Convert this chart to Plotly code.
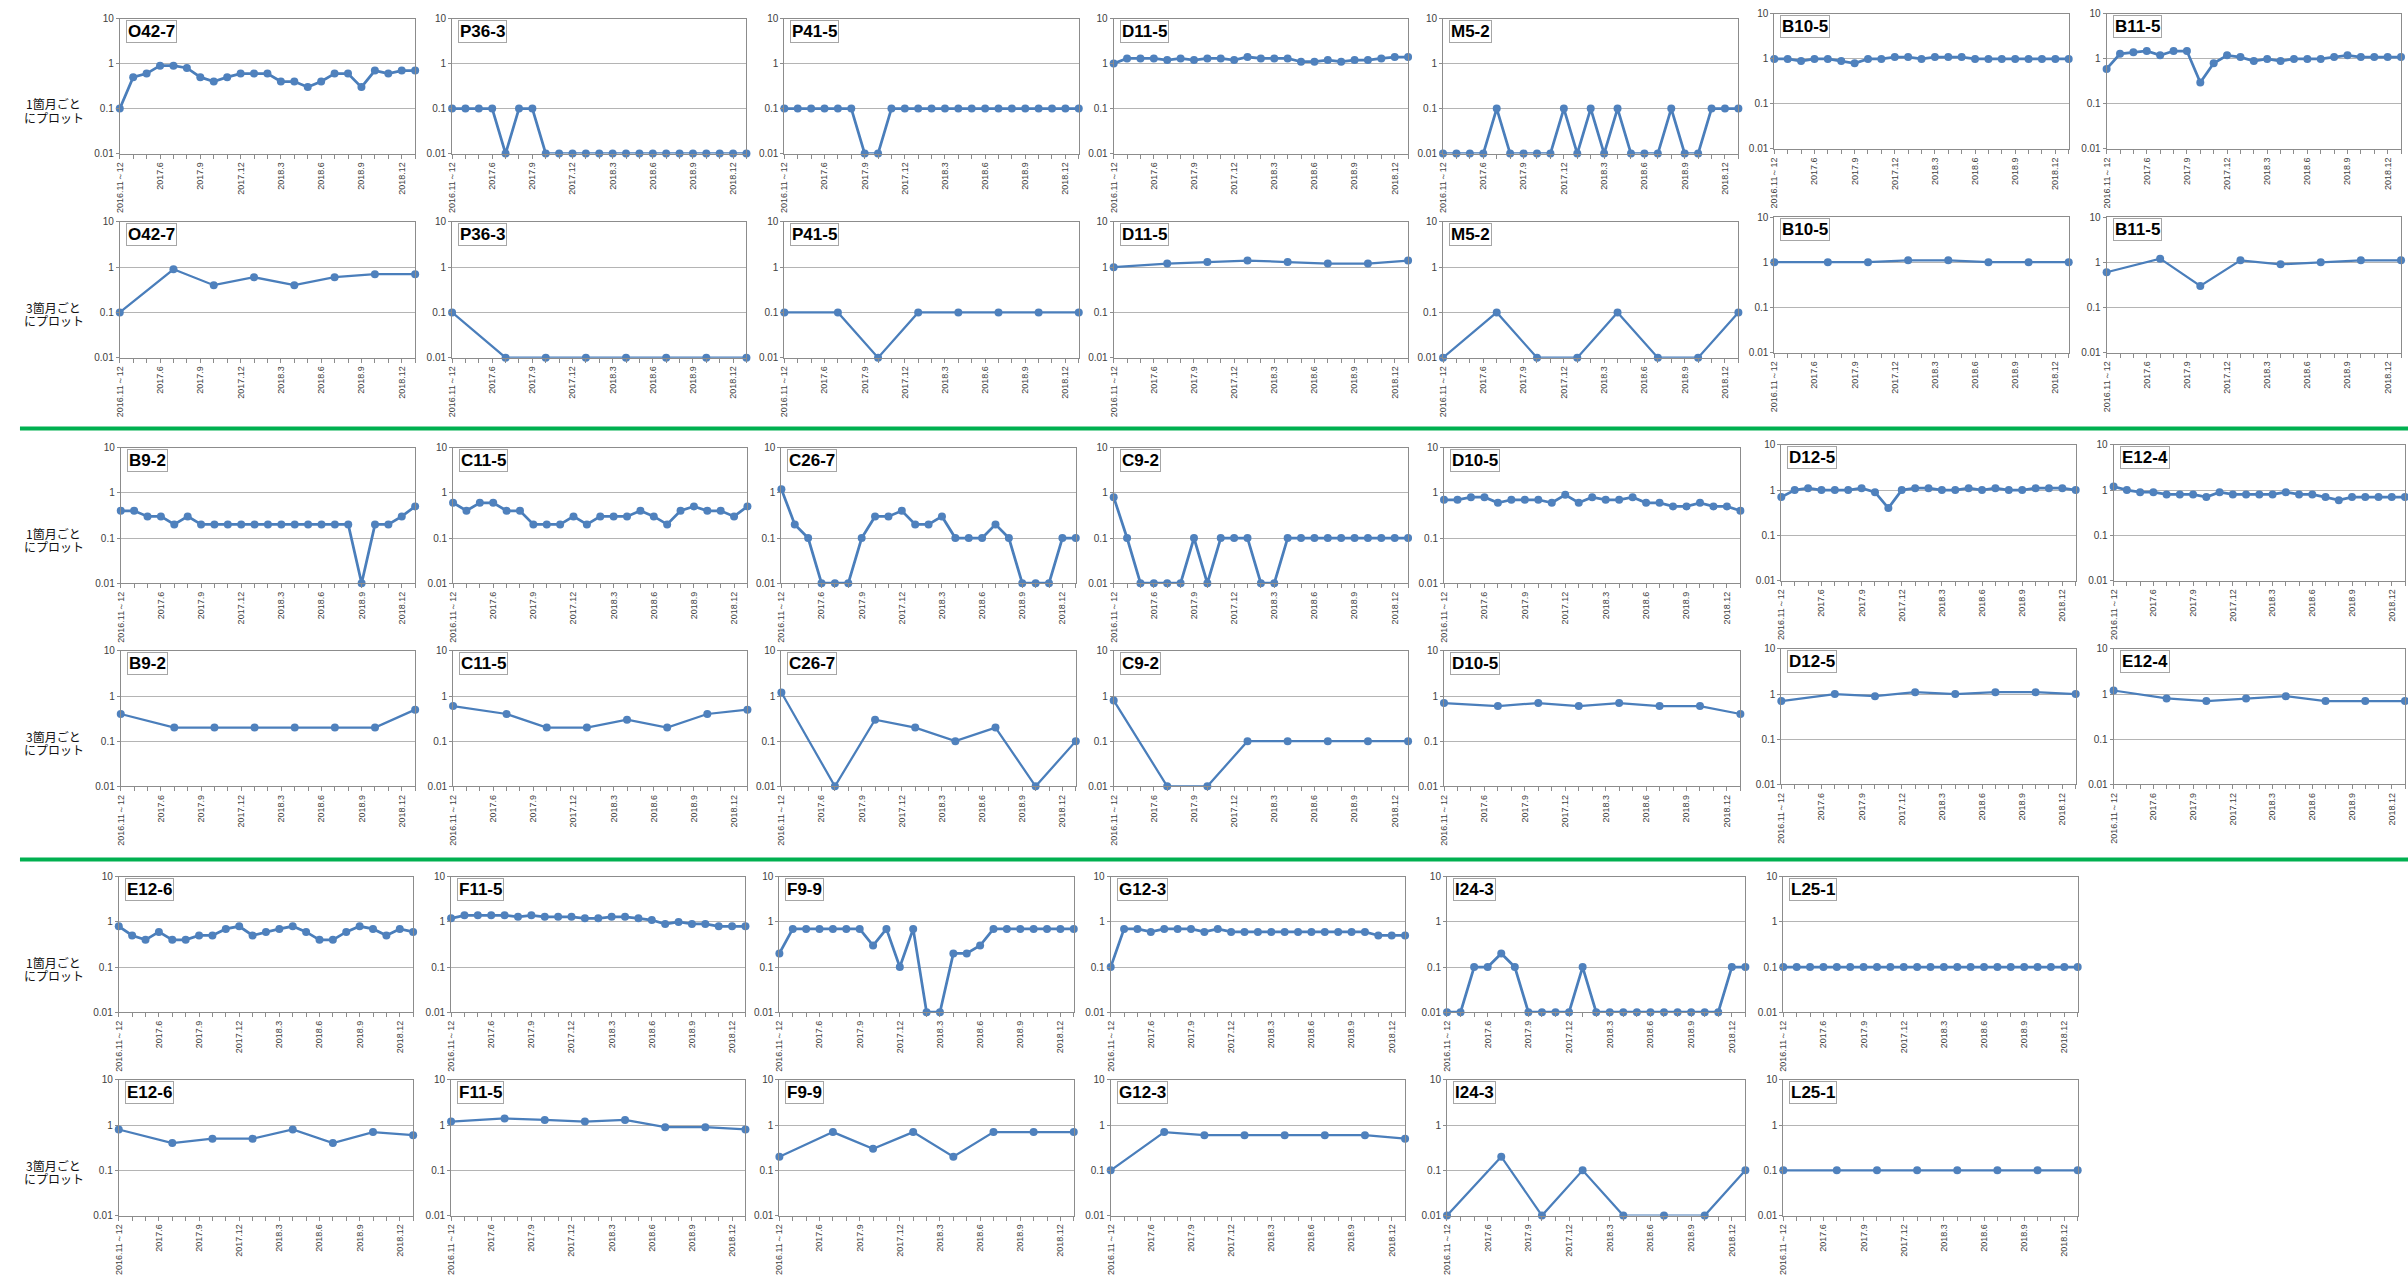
import plotly.graph_objects as go

# ---------------- categories ----------------
months = ["2016.11～12", "2017.4", "2017.5", "2017.6", "2017.7", "2017.8", "2017.9",
          "2017.10", "2017.11", "2017.12", "2018.1", "2018.2", "2018.3", "2018.4",
          "2018.5", "2018.6", "2018.7", "2018.8", "2018.9", "2018.10", "2018.11",
          "2018.12", "2019.1"]
quarters = ["2016.11～12", "2017.7", "2017.10", "2018.1", "2018.4", "2018.7",
            "2018.10", "2019.1"]
tick_text = [m if i % 3 == 0 else "" for i, m in enumerate(months)]
row_label_m = ["1箇月ごと", "にプロット"]
row_label_q = ["3箇月ごと", "にプロット"]

# ---------------- data (monthly _m, quarterly _q) ----------------
O42_7_m = [0.1, 0.5, 0.6, 0.9, 0.9, 0.8, 0.5, 0.4, 0.5, 0.6, 0.6, 0.6, 0.4, 0.4, 0.3, 0.4, 0.6, 0.6, 0.3, 0.7, 0.6, 0.7, 0.7]
O42_7_q = [0.1, 0.9, 0.4, 0.6, 0.4, 0.6, 0.7, 0.7]
P36_3_m = [0.1, 0.1, 0.1, 0.1, 0.01, 0.1, 0.1, 0.01, 0.01, 0.01, 0.01, 0.01, 0.01, 0.01, 0.01, 0.01, 0.01, 0.01, 0.01, 0.01, 0.01, 0.01, 0.01]
P36_3_q = [0.1, 0.01, 0.01, 0.01, 0.01, 0.01, 0.01, 0.01]
P41_5_m = [0.1, 0.1, 0.1, 0.1, 0.1, 0.1, 0.01, 0.01, 0.1, 0.1, 0.1, 0.1, 0.1, 0.1, 0.1, 0.1, 0.1, 0.1, 0.1, 0.1, 0.1, 0.1, 0.1]
P41_5_q = [0.1, 0.1, 0.01, 0.1, 0.1, 0.1, 0.1, 0.1]
D11_5_m = [1.0, 1.3, 1.3, 1.3, 1.2, 1.3, 1.2, 1.3, 1.3, 1.2, 1.4, 1.3, 1.3, 1.3, 1.1, 1.1, 1.2, 1.1, 1.2, 1.2, 1.3, 1.4, 1.4]
D11_5_q = [1.0, 1.2, 1.3, 1.4, 1.3, 1.2, 1.2, 1.4]
M5_2_m = [0.01, 0.01, 0.01, 0.01, 0.1, 0.01, 0.01, 0.01, 0.01, 0.1, 0.01, 0.1, 0.01, 0.1, 0.01, 0.01, 0.01, 0.1, 0.01, 0.01, 0.1, 0.1, 0.1]
M5_2_q = [0.01, 0.1, 0.01, 0.01, 0.1, 0.01, 0.01, 0.1]
B10_5_m = [1.0, 1.0, 0.9, 1.0, 1.0, 0.9, 0.8, 1.0, 1.0, 1.1, 1.1, 1.0, 1.1, 1.1, 1.1, 1.0, 1.0, 1.0, 1.0, 1.0, 1.0, 1.0, 1.0]
B10_5_q = [1.0, 1.0, 1.0, 1.1, 1.1, 1.0, 1.0, 1.0]
B11_5_m = [0.6, 1.3, 1.4, 1.5, 1.2, 1.5, 1.5, 0.3, 0.8, 1.2, 1.1, 0.9, 1.0, 0.9, 1.0, 1.0, 1.0, 1.1, 1.2, 1.1, 1.1, 1.1, 1.1]
B11_5_q = [0.6, 1.2, 0.3, 1.1, 0.9, 1.0, 1.1, 1.1]

B9_2_m = [0.4, 0.4, 0.3, 0.3, 0.2, 0.3, 0.2, 0.2, 0.2, 0.2, 0.2, 0.2, 0.2, 0.2, 0.2, 0.2, 0.2, 0.2, 0.01, 0.2, 0.2, 0.3, 0.5]
B9_2_q = [0.4, 0.2, 0.2, 0.2, 0.2, 0.2, 0.2, 0.5]
C11_5_m = [0.6, 0.4, 0.6, 0.6, 0.4, 0.4, 0.2, 0.2, 0.2, 0.3, 0.2, 0.3, 0.3, 0.3, 0.4, 0.3, 0.2, 0.4, 0.5, 0.4, 0.4, 0.3, 0.5]
C11_5_q = [0.6, 0.4, 0.2, 0.2, 0.3, 0.2, 0.4, 0.5]
C26_7_m = [1.2, 0.2, 0.1, 0.01, 0.01, 0.01, 0.1, 0.3, 0.3, 0.4, 0.2, 0.2, 0.3, 0.1, 0.1, 0.1, 0.2, 0.1, 0.01, 0.01, 0.01, 0.1, 0.1]
C26_7_q = [1.2, 0.01, 0.3, 0.2, 0.1, 0.2, 0.01, 0.1]
C9_2_m = [0.8, 0.1, 0.01, 0.01, 0.01, 0.01, 0.1, 0.01, 0.1, 0.1, 0.1, 0.01, 0.01, 0.1, 0.1, 0.1, 0.1, 0.1, 0.1, 0.1, 0.1, 0.1, 0.1]
C9_2_q = [0.8, 0.01, 0.01, 0.1, 0.1, 0.1, 0.1, 0.1]
D10_5_m = [0.7, 0.7, 0.8, 0.8, 0.6, 0.7, 0.7, 0.7, 0.6, 0.9, 0.6, 0.8, 0.7, 0.7, 0.8, 0.6, 0.6, 0.5, 0.5, 0.6, 0.5, 0.5, 0.4]
D10_5_q = [0.7, 0.6, 0.7, 0.6, 0.7, 0.6, 0.6, 0.4]
D12_5_m = [0.7, 1.0, 1.1, 1.0, 1.0, 1.0, 1.1, 0.9, 0.4, 1.0, 1.1, 1.1, 1.0, 1.0, 1.1, 1.0, 1.1, 1.0, 1.0, 1.1, 1.1, 1.1, 1.0]
D12_5_q = [0.7, 1.0, 0.9, 1.1, 1.0, 1.1, 1.1, 1.0]
E12_4_m = [1.2, 1.0, 0.9, 0.9, 0.8, 0.8, 0.8, 0.7, 0.9, 0.8, 0.8, 0.8, 0.8, 0.9, 0.8, 0.8, 0.7, 0.6, 0.7, 0.7, 0.7, 0.7, 0.7]
E12_4_q = [1.2, 0.8, 0.7, 0.8, 0.9, 0.7, 0.7, 0.7]

E12_6_m = [0.8, 0.5, 0.4, 0.6, 0.4, 0.4, 0.5, 0.5, 0.7, 0.8, 0.5, 0.6, 0.7, 0.8, 0.6, 0.4, 0.4, 0.6, 0.8, 0.7, 0.5, 0.7, 0.6]
E12_6_q = [0.8, 0.4, 0.5, 0.5, 0.8, 0.4, 0.7, 0.6]
F11_5_m = [1.2, 1.4, 1.4, 1.4, 1.4, 1.3, 1.4, 1.3, 1.3, 1.3, 1.2, 1.2, 1.3, 1.3, 1.2, 1.1, 0.9, 1.0, 0.9, 0.9, 0.8, 0.8, 0.8]
F11_5_q = [1.2, 1.4, 1.3, 1.2, 1.3, 0.9, 0.9, 0.8]
F9_9_m = [0.2, 0.7, 0.7, 0.7, 0.7, 0.7, 0.7, 0.3, 0.7, 0.1, 0.7, 0.01, 0.01, 0.2, 0.2, 0.3, 0.7, 0.7, 0.7, 0.7, 0.7, 0.7, 0.7]
F9_9_q = [0.2, 0.7, 0.3, 0.7, 0.2, 0.7, 0.7, 0.7]
G12_3_m = [0.1, 0.7, 0.7, 0.6, 0.7, 0.7, 0.7, 0.6, 0.7, 0.6, 0.6, 0.6, 0.6, 0.6, 0.6, 0.6, 0.6, 0.6, 0.6, 0.6, 0.5, 0.5, 0.5]
G12_3_q = [0.1, 0.7, 0.6, 0.6, 0.6, 0.6, 0.6, 0.5]
I24_3_m = [0.01, 0.01, 0.1, 0.1, 0.2, 0.1, 0.01, 0.01, 0.01, 0.01, 0.1, 0.01, 0.01, 0.01, 0.01, 0.01, 0.01, 0.01, 0.01, 0.01, 0.01, 0.1, 0.1]
I24_3_q = [0.01, 0.2, 0.01, 0.1, 0.01, 0.01, 0.01, 0.1]
L25_1_m = [0.1, 0.1, 0.1, 0.1, 0.1, 0.1, 0.1, 0.1, 0.1, 0.1, 0.1, 0.1, 0.1, 0.1, 0.1, 0.1, 0.1, 0.1, 0.1, 0.1, 0.1, 0.1, 0.1]
L25_1_q = [0.1, 0.1, 0.1, 0.1, 0.1, 0.1, 0.1, 0.1]

group1_names = ["O42-7", "P36-3", "P41-5", "D11-5", "M5-2", "B10-5", "B11-5"]
group1_m = [O42_7_m, P36_3_m, P41_5_m, D11_5_m, M5_2_m, B10_5_m, B11_5_m]
group1_q = [O42_7_q, P36_3_q, P41_5_q, D11_5_q, M5_2_q, B10_5_q, B11_5_q]
group2_names = ["B9-2", "C11-5", "C26-7", "C9-2", "D10-5", "D12-5", "E12-4"]
group2_m = [B9_2_m, C11_5_m, C26_7_m, C9_2_m, D10_5_m, D12_5_m, E12_4_m]
group2_q = [B9_2_q, C11_5_q, C26_7_q, C9_2_q, D10_5_q, D12_5_q, E12_4_q]
group3_names = ["E12-6", "F11-5", "F9-9", "G12-3", "I24-3", "L25-1"]
group3_m = [E12_6_m, F11_5_m, F9_9_m, G12_3_m, I24_3_m, L25_1_m]
group3_q = [E12_6_q, F11_5_q, F9_9_q, G12_3_q, I24_3_q, L25_1_q]

# ---------------- geometry (pixels) ----------------
W, H = 2408, 1281
geo = [
    dict(xs=[(115, 411), (448, 743), (781, 1076), (1111, 1406), (1441, 1737), (1773, 2068), (2106, 2401)],
         rm=[(12.7, 149)] * 5 + [(8, 144.3)] * 2,
         rq=[(218, 355)] * 5 + [(213, 350)] * 2),
    dict(xs=[(116, 411), (449, 744), (778, 1073), (1111, 1406), (1442, 1739), (1780, 2075), (2113, 2405)],
         rm=[(445.7, 582.7)] * 5 + [(443, 580)] * 2,
         rq=[(651, 787.7)] * 5 + [(649, 785.7)] * 2),
    dict(xs=[(114, 409), (447, 742), (776, 1071), (1108, 1403), (1445, 1744), (1782, 2077)],
         rm=[(879, 1015.7)] * 6,
         rq=[(1084, 1221)] * 6),
]
groups = [(group1_names, group1_m, group1_q), (group2_names, group2_m, group2_q),
          (group3_names, group3_m, group3_q)]

LINE = "#4A7EBB"
MARK = "#4F81BD"
AXC = "#8C8C8C"
GRID = "#B4B4B4"
TXT = "#404040"
FONT = "Liberation Sans"

fig = go.Figure()
annotations = []
shapes = []
layout_axes = {}
k = 0


def add_panel(name, xcats, yvals, x0, x1, t, b, lw):
    global k
    k += 1
    xa = "x" if k == 1 else f"x{k}"
    ya = "y" if k == 1 else f"y{k}"
    fig.add_trace(go.Scatter(
        x=xcats, y=yvals, xaxis=xa, yaxis=ya, mode="lines+markers",
        line=dict(color=LINE, width=lw), marker=dict(color=MARK, size=8),
        cliponaxis=False, showlegend=False, hoverinfo="skip"))
    layout_axes["xaxis" if k == 1 else f"xaxis{k}"] = dict(
        domain=[x0 / W, x1 / W], anchor=ya, type="category",
        categoryorder="array", categoryarray=months, range=[0, len(months) - 1],
        tickmode="array", tickvals=months, ticktext=tick_text, tickangle=-90,
        ticks="outside", ticklen=4, tickcolor=AXC, tickwidth=1,
        showline=True, mirror=True, linecolor=AXC, linewidth=1,
        showgrid=False, zeroline=False, fixedrange=True,
        tickfont=dict(family=FONT, size=9, color=TXT))
    layout_axes["yaxis" if k == 1 else f"yaxis{k}"] = dict(
        domain=[1 - b / H, 1 - t / H], anchor=xa, type="log", range=[-2, 1],
        tickmode="array", tickvals=[0.01, 0.1, 1, 10], ticktext=["0.01", "0.1", "1", "10"],
        ticks="outside", ticklen=3, tickcolor=AXC,
        showline=True, mirror=True, linecolor=AXC, linewidth=1,
        showgrid=True, gridcolor=GRID, gridwidth=1, zeroline=False, fixedrange=True,
        tickfont=dict(family=FONT, size=10, color=TXT))
    annotations.append(dict(
        text=f"<b>{name}</b>", xref=f"{xa} domain", yref=f"{ya} domain",
        x=6 / (x1 - x0), y=1 - 1.5 / (b - t), xanchor="left", yanchor="top",
        showarrow=False, bgcolor="white", bordercolor="#A6A6A6", borderwidth=1,
        borderpad=1, font=dict(family=FONT, size=17, color="black")))


for (names, mvals, qvals), g in zip(groups, geo):
    for i, name in enumerate(names):
        x0, x1 = g["xs"][i]
        t, b = g["rm"][i]
        add_panel(name, months, mvals[i], x0, x1, t, b, 2.75)
        t, b = g["rq"][i]
        add_panel(name, quarters, qvals[i], x0, x1, t, b, 2.25)
    # row labels, centered near the 0.1 gridline of the first column
    for (t, b), lab in ((g["rm"][0], row_label_m), (g["rq"][0], row_label_q)):
        gy = t + (b - t) * 2 / 3
        for line_text, dy in zip(lab, (-5, 8.5)):
            annotations.append(dict(
                text=line_text, xref="paper", yref="paper", x=49 / W, y=1 - (gy + dy) / H,
                xanchor="center", yanchor="middle", showarrow=False,
                font=dict(family="Noto Sans CJK JP", size=12, color="#111111")))

for gy in (426.5, 861.5):
    shapes.append(dict(type="line", xref="paper", yref="paper", x0=15 / W, x1=1,
                       y0=1 - gy / H, y1=1 - gy / H, line=dict(color="#00B050", width=4)))

fig.update_layout(width=W, height=H, margin=dict(l=0, r=0, t=0, b=0),
                  paper_bgcolor="white", plot_bgcolor="white",
                  annotations=annotations, shapes=shapes, **layout_axes)

fig.write_html("out.html", config={"displayModeBar": False},
               post_script="document.body.style.margin='0px';document.body.style.overflow='hidden';")
